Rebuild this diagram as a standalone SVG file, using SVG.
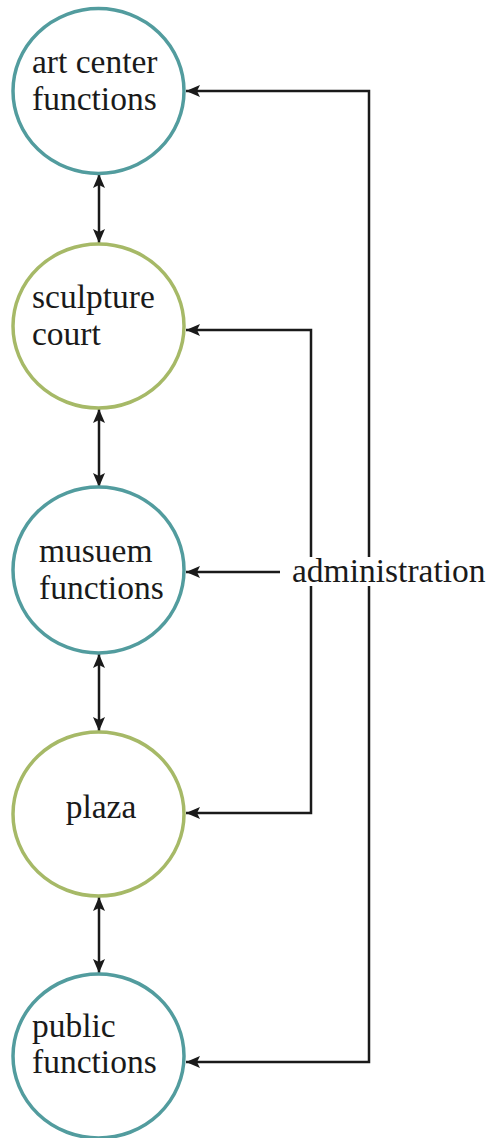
<svg xmlns="http://www.w3.org/2000/svg" width="488" height="1138" viewBox="0 0 488 1138">
<style>
.teal{fill:#fff;stroke:#529c9e;stroke-width:3.5}
.green{fill:#fff;stroke:#a6b967;stroke-width:3.5}
.lbl{font-family:"Liberation Serif","Times New Roman",serif;font-size:33.5px;fill:#1a1a1a}
.ln{fill:none;stroke:#1a1a1a;stroke-width:2.5}
.arr{marker-end:url(#ah)}
.dbl{marker-start:url(#ah);marker-end:url(#ah)}
</style>
<defs>
<marker id="ah" viewBox="0 0 14 12" refX="14" refY="6" markerWidth="14" markerHeight="12" markerUnits="userSpaceOnUse" orient="auto-start-reverse">
<path d="M0,0 L14,6 L0,12 L3,6 z" fill="#1a1a1a"/>
</marker>
</defs>
<rect width="488" height="1138" fill="#fff"/>
<g id="connectors">
<line class="ln dbl" x1="99" y1="174" x2="99" y2="243"/>
<line class="ln dbl" x1="99" y1="409" x2="99" y2="487"/>
<line class="ln dbl" x1="99" y1="654" x2="99" y2="731"/>
<line class="ln dbl" x1="99" y1="897" x2="99" y2="973"/>
<polyline class="ln arr" points="369,557 369,91 186,91"/>
<polyline class="ln arr" points="369,586 369,1062 186,1062"/>
<polyline class="ln arr" points="311,557 311,330 186,330"/>
<polyline class="ln arr" points="311,586 311,813 186,813"/>
<line class="ln arr" x1="280" y1="572" x2="186" y2="572"/>
</g>
<g id="art-center">
<ellipse class="teal" cx="98.5" cy="91" rx="85.5" ry="82.5"/>
<text class="lbl" x="32" y="73">art center</text>
<text class="lbl" x="32" y="110">functions</text>
</g>
<g id="sculpture-court">
<ellipse class="green" cx="98.5" cy="326" rx="85.5" ry="82"/>
<text class="lbl" x="32" y="308">sculpture</text>
<text class="lbl" x="32" y="345">court</text>
</g>
<g id="museum">
<ellipse class="teal" cx="98.5" cy="570" rx="85.5" ry="83"/>
<text class="lbl" x="39" y="562">musuem</text>
<text class="lbl" x="39" y="599">functions</text>
</g>
<g id="plaza">
<ellipse class="green" cx="98.5" cy="814" rx="85.5" ry="82"/>
<text class="lbl" x="101" y="818" text-anchor="middle">plaza</text>
</g>
<g id="public">
<ellipse class="teal" cx="98.5" cy="1056" rx="85.5" ry="82"/>
<text class="lbl" x="32" y="1037">public</text>
<text class="lbl" x="32" y="1073">functions</text>
</g>
<g id="administration">
<text class="lbl" x="292" y="582">administration</text>
</g>
</svg>
